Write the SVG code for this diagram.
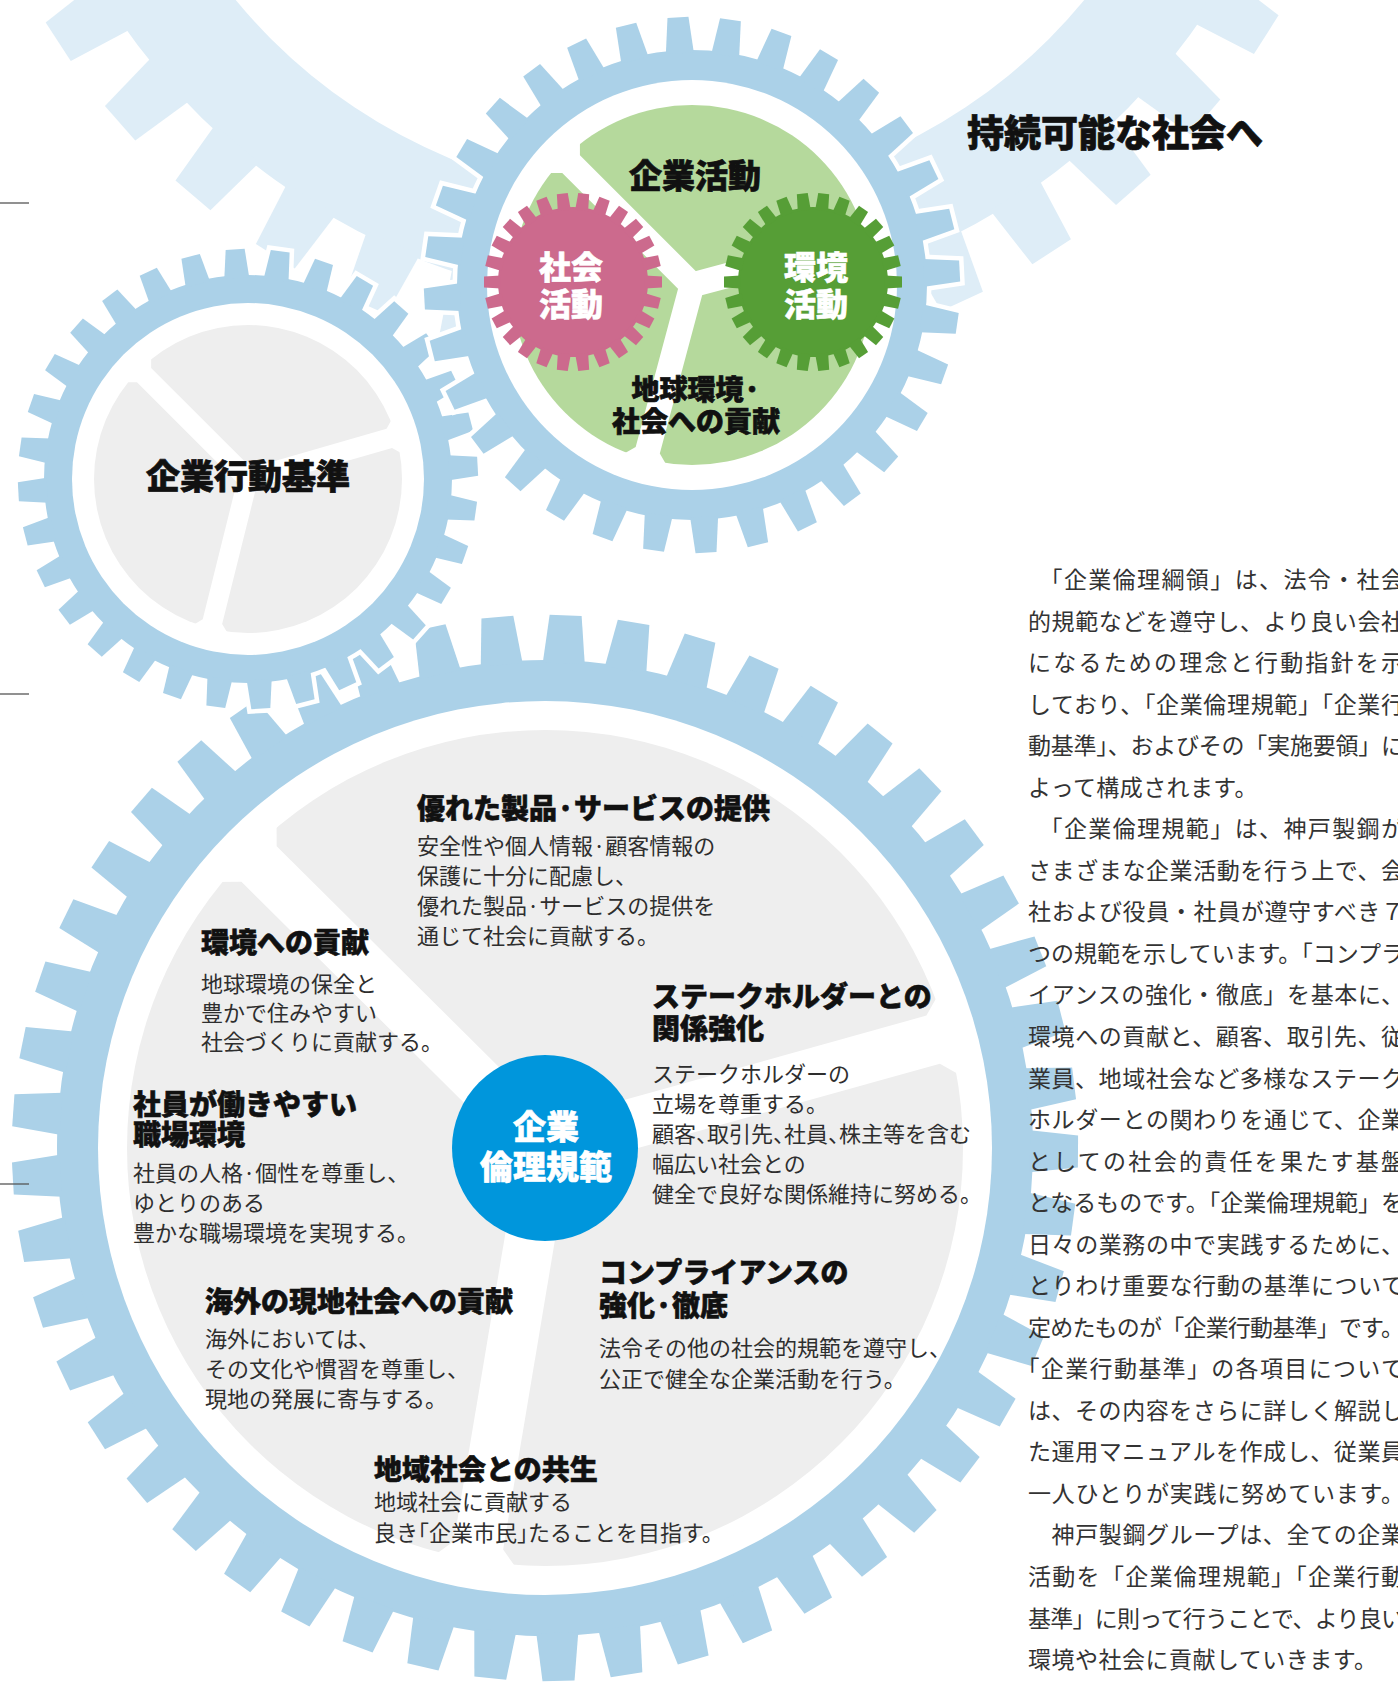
<svg xmlns="http://www.w3.org/2000/svg" width="1398" height="1685" viewBox="0 0 1398 1685">
<style>
text{font-family:"Noto Sans CJK JP","Noto Sans CJK SC",sans-serif}
.ttl{font-size:28px;font-weight:900;fill:#111;stroke:#111;stroke-width:0.6px}
.bd{font-size:22px;font-weight:400;fill:#2e2e2e}
.hub{font-size:33px;font-weight:900;fill:#fff;stroke:#fff;stroke-width:0.6px;text-anchor:middle}
.sub{font-size:32px;font-weight:900;fill:#fff;stroke:#fff;stroke-width:0.6px;text-anchor:middle}
.lbl{font-weight:900;fill:#111;stroke:#111;stroke-width:0.7px}
.col{font-size:23px;font-weight:400;fill:#333}
.h{font-feature-settings:"halt"}
.halo{fill:#fff;stroke:#fff;stroke-width:9px}
.ring{fill:#abd1e8}
.rule{stroke:#555;stroke-width:1.3}
</style>
<defs>
  <!-- large pale gear: 44 teeth -->
  <polygon id="tL" points="-29,-650 29,-650 23,-718 -23,-718"/>
  <g id="tL4"><use href="#tL"/><use href="#tL" transform="rotate(8.182)"/><use href="#tL" transform="rotate(16.364)"/><use href="#tL" transform="rotate(24.545)"/></g>
  <g id="gearL"><circle r="655"/><use href="#tL4"/><use href="#tL4" transform="rotate(32.727)"/><use href="#tL4" transform="rotate(65.455)"/><use href="#tL4" transform="rotate(98.182)"/><use href="#tL4" transform="rotate(130.909)"/><use href="#tL4" transform="rotate(163.636)"/><use href="#tL4" transform="rotate(196.364)"/><use href="#tL4" transform="rotate(229.091)"/><use href="#tL4" transform="rotate(261.818)"/><use href="#tL4" transform="rotate(294.545)"/><use href="#tL4" transform="rotate(327.273)"/></g>

  <!-- main gear: 49 teeth -->
  <polygon id="tB" points="-21,-485 21,-485 16,-533 -16,-533"/>
  <g id="tB7"><use href="#tB"/><use href="#tB" transform="rotate(7.347)"/><use href="#tB" transform="rotate(14.694)"/><use href="#tB" transform="rotate(22.041)"/><use href="#tB" transform="rotate(29.388)"/><use href="#tB" transform="rotate(36.735)"/><use href="#tB" transform="rotate(44.082)"/></g>
  <g id="gearB"><circle r="488"/><use href="#tB7"/><use href="#tB7" transform="rotate(51.429)"/><use href="#tB7" transform="rotate(102.857)"/><use href="#tB7" transform="rotate(154.286)"/><use href="#tB7" transform="rotate(205.714)"/><use href="#tB7" transform="rotate(257.143)"/><use href="#tB7" transform="rotate(308.571)"/></g>

  <!-- upper gear: 32 teeth -->
  <polygon id="tT" points="-14,-232 14,-232 10.5,-268 -10.5,-268"/>
  <g id="tT4"><use href="#tT"/><use href="#tT" transform="rotate(11.25)"/><use href="#tT" transform="rotate(22.5)"/><use href="#tT" transform="rotate(33.75)"/></g>
  <g id="gearT"><circle r="235"/><use href="#tT4"/><use href="#tT4" transform="rotate(45)"/><use href="#tT4" transform="rotate(90)"/><use href="#tT4" transform="rotate(135)"/><use href="#tT4" transform="rotate(180)"/><use href="#tT4" transform="rotate(225)"/><use href="#tT4" transform="rotate(270)"/><use href="#tT4" transform="rotate(315)"/></g>

  <!-- left gear: 32 teeth -->
  <polygon id="tS" points="-12.5,-201 12.5,-201 9.5,-230 -9.5,-230"/>
  <g id="tS4"><use href="#tS"/><use href="#tS" transform="rotate(11.25)"/><use href="#tS" transform="rotate(22.5)"/><use href="#tS" transform="rotate(33.75)"/></g>
  <g id="gearS"><circle r="204"/><use href="#tS4"/><use href="#tS4" transform="rotate(45)"/><use href="#tS4" transform="rotate(90)"/><use href="#tS4" transform="rotate(135)"/><use href="#tS4" transform="rotate(180)"/><use href="#tS4" transform="rotate(225)"/><use href="#tS4" transform="rotate(270)"/><use href="#tS4" transform="rotate(315)"/></g>

  <!-- small inner gears: 26 teeth -->
  <polygon id="tM" points="-6.5,-72 6.5,-72 5.5,-89 -5.5,-89"/>
  <g id="tM2"><use href="#tM"/><use href="#tM" transform="rotate(13.846)"/></g>
  <g id="gearM"><circle r="75"/><use href="#tM2"/><use href="#tM2" transform="rotate(27.692)"/><use href="#tM2" transform="rotate(55.385)"/><use href="#tM2" transform="rotate(83.077)"/><use href="#tM2" transform="rotate(110.769)"/><use href="#tM2" transform="rotate(138.462)"/><use href="#tM2" transform="rotate(166.154)"/><use href="#tM2" transform="rotate(193.846)"/><use href="#tM2" transform="rotate(221.538)"/><use href="#tM2" transform="rotate(249.231)"/><use href="#tM2" transform="rotate(276.923)"/><use href="#tM2" transform="rotate(304.615)"/><use href="#tM2" transform="rotate(332.308)"/></g>

  <!-- spokes with chamfered ends -->
  <polygon id="spT" points="-4,-12.5 171,-12.5 190,-31.5 190,31.5 171,12.5 -4,12.5"/>
  <polygon id="spB" points="-4,-25 403,-25 425,-47 425,47 403,25 -4,25"/>
  <polygon id="spS" points="-4,-10 147,-10 160,-23 160,23 147,10 -4,10"/>
</defs>

<rect width="1398" height="1685" fill="#fff"/>

<!-- pale background gear -->
<g id="gear-sustainable">
  <use href="#gearL" transform="translate(660,-350) rotate(7.85)" fill="#deedf7"/>
  <circle cx="660" cy="-350" r="550" fill="#fff"/>
</g>

<!-- main gear: corporate ethics principles -->
<g id="gear-ethics">
  <use href="#gearB" class="halo" transform="translate(545,1148) rotate(2.22)"/>
  <use href="#gearB" class="ring" transform="translate(545,1148) rotate(2.22)"/>
  <circle cx="545" cy="1148" r="447" fill="#fff"/>
  <circle cx="545" cy="1148" r="418" fill="#eeeeee"/>
  <g transform="translate(545,1148)" fill="#fff">
    <use href="#spB" transform="rotate(-15.6)"/>
    <use href="#spB" transform="rotate(99.5)"/>
    <use href="#spB" transform="rotate(224.8)"/>
  </g>
</g>

<g id="item-products">
  <text class="ttl" x="417" y="819">優れた製品·サービスの提供</text>
  <text class="bd" x="417" y="854">安全性や個人情報·顧客情報の</text>
  <text class="bd" x="417" y="884">保護に十分に配慮し、</text>
  <text class="bd" x="417" y="914">優れた製品·サービスの提供を</text>
  <text class="bd" x="417" y="944">通じて社会に貢献する。</text>
</g>
<g id="item-environment">
  <text class="ttl" x="201" y="953">環境への貢献</text>
  <text class="bd" x="201" y="992">地球環境の保全と</text>
  <text class="bd" x="201" y="1021">豊かで住みやすい</text>
  <text class="bd" x="201" y="1050">社会づくりに貢献する。</text>
</g>
<g id="item-stakeholders">
  <text class="ttl" x="652" y="1007">ステークホルダーとの</text>
  <text class="ttl" x="652" y="1039">関係強化</text>
  <text class="bd" x="652" y="1082">ステークホルダーの</text>
  <text class="bd" x="652" y="1112">立場を尊重する。</text>
  <text class="bd" x="652" y="1142">顧客<tspan class="h">、</tspan>取引先<tspan class="h">、</tspan>社員<tspan class="h">、</tspan>株主等を含む</text>
  <text class="bd" x="652" y="1172">幅広い社会との</text>
  <text class="bd" x="652" y="1202">健全で良好な関係維持に努める。</text>
</g>
<g id="item-workplace">
  <text class="ttl" x="133" y="1115">社員が働きやすい</text>
  <text class="ttl" x="133" y="1145">職場環境</text>
  <text class="bd" x="133" y="1181">社員の人格·個性を尊重し、</text>
  <text class="bd" x="133" y="1211">ゆとりのある</text>
  <text class="bd" x="133" y="1241">豊かな職場環境を実現する。</text>
</g>
<g id="item-compliance">
  <text class="ttl" x="599" y="1283">コンプライアンスの</text>
  <text class="ttl" x="599" y="1316">強化·徹底</text>
  <text class="bd" x="599" y="1356">法令その他の社会的規範を遵守し、</text>
  <text class="bd" x="599" y="1387">公正で健全な企業活動を行う。</text>
</g>
<g id="item-overseas">
  <text class="ttl" x="205" y="1312">海外の現地社会への貢献</text>
  <text class="bd" x="205" y="1347">海外においては、</text>
  <text class="bd" x="205" y="1377">その文化や慣習を尊重し、</text>
  <text class="bd" x="205" y="1407">現地の発展に寄与する。</text>
</g>
<g id="item-community">
  <text class="ttl" x="374" y="1480">地域社会との共生</text>
  <text class="bd" x="374" y="1510">地域社会に貢献する</text>
  <text class="bd" x="374" y="1541">良き<tspan class="h">「</tspan>企業市民<tspan class="h">」</tspan>たることを目指す。</text>
</g>
<g id="hub-ethics">
  <circle cx="545" cy="1148" r="93" fill="#0096dc"/>
  <text class="hub" x="546" y="1139">企業</text>
  <text class="hub" x="546" y="1179">倫理規範</text>
</g>

<!-- left gear: corporate conduct standards -->
<g id="gear-standards">
  <use href="#gearS" class="halo" transform="translate(248,479) rotate(8.05)"/>
  <use href="#gearS" class="ring" transform="translate(248,479) rotate(8.05)"/>
  <circle cx="248" cy="479" r="176" fill="#fff"/>
  <circle cx="248" cy="479" r="154" fill="#eeeeee"/>
  <g transform="translate(248,479)" fill="#fff">
    <use href="#spS" transform="rotate(-16)"/>
    <use href="#spS" transform="rotate(104)"/>
    <use href="#spS" transform="rotate(225)"/>
  </g>
  <text class="lbl" x="248" y="489" font-size="34" text-anchor="middle">企業行動基準</text>
</g>

<!-- upper gear: corporate activities -->
<g id="gear-activities">
  <use href="#gearT" class="halo" transform="translate(692,285) rotate(8.25)"/>
  <use href="#gearT" class="ring" transform="translate(692,285) rotate(8.25)"/>
  <circle cx="692" cy="285" r="205" fill="#fff"/>
  <circle cx="692" cy="285" r="180" fill="#b5d99c"/>
  <g transform="translate(692,285)" fill="#fff">
    <use href="#spT" transform="rotate(-15)"/>
    <use href="#spT" transform="rotate(105)"/>
    <use href="#spT" transform="rotate(225)"/>
  </g>
  <text class="lbl" x="695" y="188" font-size="33" text-anchor="middle">企業活動</text>
  <text class="lbl" x="696" y="400" font-size="28" text-anchor="middle">地球環境·</text>
  <text class="lbl" x="696" y="432" font-size="28" text-anchor="middle">社会への貢献</text>
</g>
<g id="gear-social">
  <use href="#gearM" transform="translate(573,282) rotate(6.92)" fill="#cc6a8d"/>
  <text class="sub" x="571" y="279">社会</text>
  <text class="sub" x="571" y="316">活動</text>
</g>
<g id="gear-environmental">
  <use href="#gearM" transform="translate(813,282) rotate(6.92)" fill="#569e36"/>
  <text class="sub" x="816" y="279">環境</text>
  <text class="sub" x="816" y="316">活動</text>
</g>

<g id="heading">
  <text class="lbl" x="967" y="147" font-size="37">持続可能な社会へ</text>
</g>

<g id="page-rules">
  <line class="rule" x1="0" y1="203" x2="29" y2="203"/>
  <line class="rule" x1="0" y1="694" x2="29" y2="694"/>
  <line class="rule" x1="0" y1="1184" x2="29" y2="1184"/>
</g>

<!-- explanatory column, justified to a 16-character measure -->
<g id="body-text" class="col">
  <text x="1039.5" y="588" textLength="364.5" lengthAdjust="spacing">「企業倫理綱領」は、法令・社会</text>
  <text x="1028" y="629.5" textLength="376" lengthAdjust="spacing">的規範などを遵守し、より良い会社</text>
  <text x="1028" y="671.1" textLength="376" lengthAdjust="spacing">になるための理念と行動指針を示</text>
  <text x="1028" y="712.6" textLength="376" lengthAdjust="spacing">しており、「企業倫理規範」「企業行</text>
  <text x="1028" y="754.2" textLength="376" lengthAdjust="spacing">動基準」、およびその「実施要領」に</text>
  <text x="1028" y="795.7" letter-spacing="0.4">よって構成されます。</text>
  <text x="1039.5" y="837.2" textLength="364.5" lengthAdjust="spacing">「企業倫理規範」は、神戸製鋼が</text>
  <text x="1028" y="878.8" textLength="376" lengthAdjust="spacing">さまざまな企業活動を行う上で、会</text>
  <text x="1028" y="920.3" textLength="376" lengthAdjust="spacing">社および役員・社員が遵守すべき７</text>
  <text x="1028" y="961.9" textLength="376" lengthAdjust="spacing">つの規範を示しています。「コンプラ</text>
  <text x="1028" y="1003.4" textLength="376" lengthAdjust="spacing">イアンスの強化・徹底」を基本に、</text>
  <text x="1028" y="1044.9" textLength="376" lengthAdjust="spacing">環境への貢献と、顧客、取引先、従</text>
  <text x="1028" y="1086.5" textLength="376" lengthAdjust="spacing">業員、地域社会など多様なステーク</text>
  <text x="1028" y="1128" textLength="376" lengthAdjust="spacing">ホルダーとの関わりを通じて、企業</text>
  <text x="1028" y="1169.6" textLength="376" lengthAdjust="spacing">としての社会的責任を果たす基盤</text>
  <text x="1028" y="1211.1" textLength="376" lengthAdjust="spacing">となるものです。「企業倫理規範」を</text>
  <text x="1028" y="1252.6" textLength="376" lengthAdjust="spacing">日々の業務の中で実践するために、</text>
  <text x="1028" y="1294.2" textLength="376" lengthAdjust="spacing">とりわけ重要な行動の基準について</text>
  <text x="1028" y="1335.7" textLength="376" lengthAdjust="spacing">定めたものが「企業行動基準」です。</text>
  <text x="1016.5" y="1377.3" textLength="387.5" lengthAdjust="spacing">「企業行動基準」の各項目について</text>
  <text x="1028" y="1418.8" textLength="376" lengthAdjust="spacing">は、その内容をさらに詳しく解説し</text>
  <text x="1028" y="1460.3" textLength="376" lengthAdjust="spacing">た運用マニュアルを作成し、従業員</text>
  <text x="1028" y="1501.9" textLength="376" lengthAdjust="spacing">一人ひとりが実践に努めています。</text>
  <text x="1051.5" y="1543.4" textLength="352.5" lengthAdjust="spacing">神戸製鋼グループは、全ての企業</text>
  <text x="1028" y="1585" textLength="376" lengthAdjust="spacing">活動を「企業倫理規範」「企業行動</text>
  <text x="1028" y="1626.5" textLength="376" lengthAdjust="spacing">基準」に則って行うことで、より良い</text>
  <text x="1028" y="1668" letter-spacing="0.5">環境や社会に貢献していきます。</text>
</g>
</svg>
